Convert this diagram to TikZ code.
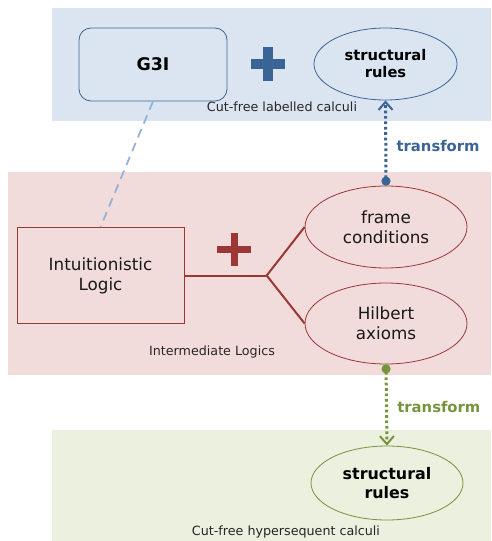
\documentclass[tikz,border=0pt]{standalone}
\usepackage{fontspec}
\setmainfont{DejaVu Sans}
\usetikzlibrary{shapes.geometric,arrows.meta}
\definecolor{bgblue}{HTML}{DBE5F1}
\definecolor{bgred}{HTML}{F2DCDB}
\definecolor{bggreen}{HTML}{EBF1DE}
\definecolor{dblue}{HTML}{3A6496}
\definecolor{lblue}{HTML}{95B3D7}
\definecolor{dred}{HTML}{9B3734}
\definecolor{dgreen}{HTML}{77933C}
\tikzset{
  caption/.style={font=\fontsize{12.7}{15}\selectfont, text=black!85, inner sep=0pt},
  ell/.style={ellipse, inner sep=0pt, align=center, line width=0.8pt},
  bigtext/.style={font=\fontsize{16.8}{20}\selectfont, text=black!90},
  boldtext/.style={font=\bfseries\fontsize{14.7}{17}\selectfont},
  trans/.style={line width=3pt, dash pattern=on 2.7pt off 2.7pt,
     {Circle[length=9pt,width=9pt]}-{Straight Barb[length=8pt,width=14pt,line width=2pt]}},
  translabel/.style={font=\bfseries\fontsize{14.8}{17}\selectfont, right=6pt}
}
\begin{document}
\begin{tikzpicture}[x=1pt,y=-1pt]
\useasboundingbox (0,0) rectangle (492,541);
% regions
\fill[bgblue] (52,8) rectangle (491,121);
\fill[bgred] (8,172) rectangle (491,375);
\fill[bggreen] (52,430) rectangle (491,541);

% top region
\node[draw=dblue, line width=0.8pt, rounded corners=12pt, minimum width=148pt, minimum height=73pt,
  font=\bfseries\fontsize{17.4}{20}\selectfont] (g3i) at (153,64.5) {G3I};
\node[ell, draw=dblue, minimum width=143pt, minimum height=72pt, boldtext] (sr1) at (385.5,64) {structural\\rules};
\node[caption] (cap1) at (282,107) {Cut-free labelled calculi};
\fill[dblue] (250.5,58.5) rectangle (284.5,68.5);
\fill[dblue] (262.5,46.5) rectangle (272.5,80.5);

% middle region
\node[draw=dred, line width=0.8pt, minimum width=167pt, minimum height=96pt, align=center, bigtext] (il) at (100.5,275.5) {Intuitionistic\\Logic};
\node[ell, draw=dred, minimum width=162pt, minimum height=82pt, bigtext] (frame) at (386,227) {frame\\conditions};
\node[ell, draw=dred, minimum width=162pt, minimum height=81pt, bigtext] (hilb) at (386,323.5) {Hilbert\\axioms};
\node[caption] (cap2) at (212,352) {Intermediate Logics};
\fill[dred] (217,246) rectangle (251,253);
\fill[dred] (230.5,233) rectangle (237.5,266);
\coordinate (junc) at (266.7,275.5);
\draw[dred, line width=2pt] (il.east) -- (junc);
\draw[dred, line width=2pt] (junc) -- (frame.west);
\draw[dred, line width=2pt] (junc) -- (hilb.west);

% bottom region
\node[ell, draw=dgreen, minimum width=152pt, minimum height=74pt, font=\bfseries\fontsize{15.9}{19}\selectfont] (sr2) at (387,483) {structural\\rules};
\node[caption] (cap3) at (286,531.5) {Cut-free hypersequent calculi};

% connectors
\draw[lblue, line width=1.8pt, dash pattern=on 9pt off 6pt] (g3i.south) -- (il.north);
\draw[dblue, trans] (frame.north) -- node[pos=0.465, translabel, text=dblue] {transform} (sr1.south);
\draw[dgreen, trans] (hilb.south) -- node[pos=0.52, translabel, text=dgreen] {transform} (sr2.north);
\end{tikzpicture}
\end{document}
